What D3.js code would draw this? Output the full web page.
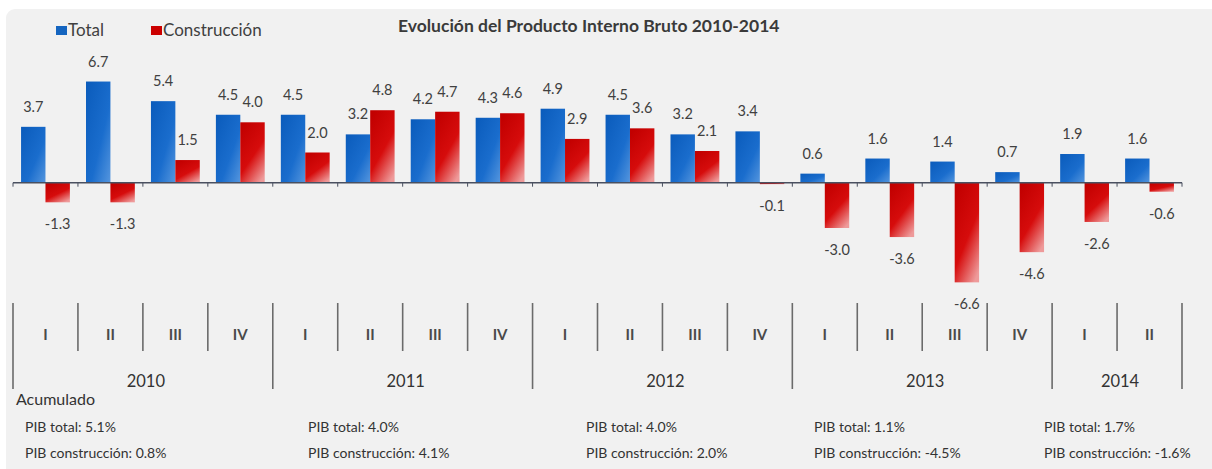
<!DOCTYPE html>
<html>
<head>
<meta charset="utf-8">
<script src="https://cdn.jsdelivr.net/npm/d3@7"></script>
<style>
  body { margin: 0; background: #fff; }
  text { font-family: Lato, 'Noto Sans', sans-serif; fill: #404040; }
</style>
</head>
<body>
<div id="chart"></div>
<script>
let years = ['2010', '2011', '2012', '2013', '2014']
let quarterNames = ['I', 'II', 'III', 'IV']
let quartersPerYear = [4, 4, 4, 4, 2]
let totalValues = [3.7, 6.7, 5.4, 4.5, 4.5, 3.2, 4.2, 4.3, 4.9, 4.5, 3.2, 3.4, 0.6, 1.6, 1.4, 0.7, 1.9, 1.6]
let consValues = [-1.3, -1.3, 1.5, 4.0, 2.0, 4.8, 4.7, 4.6, 2.9, 3.6, 2.1, -0.1, -3.0, -3.6, -6.6, -4.6, -2.6, -0.6]
let seriesNames = ['Total', 'Construcción']
let accTotal = ['5.1%', '4.0%', '4.0%', '1.1%', '1.7%']
let accCons = ['0.8%', '4.1%', '2.0%', '-4.5%', '-1.6%']

let categories = []
years.forEach((y, i) => {
    for (let q = 0; q < quartersPerYear[i]; q++) categories.push({ year: y, q: quarterNames[q], first: q === 0 })
})
let rows = categories.map((c, i) => ({ id: c.year + '-' + c.q, cat: c, total: totalValues[i], cons: consValues[i] }))

let W = 1212, H = 469

let svg = d3.select('#chart')
    .append('svg')
    .attr('width', W)
    .attr('height', H)

let defs = svg.append('defs')
let gb = defs.append('linearGradient').attr('id', 'gBlue')
    .attr('x1', 0).attr('y1', 0).attr('x2', 1).attr('y2', 1)
gb.append('stop').attr('offset', '0%').attr('stop-color', '#0a5bbb')
gb.append('stop').attr('offset', '60%').attr('stop-color', '#1a6dcd')
gb.append('stop').attr('offset', '100%').attr('stop-color', '#5596de')
let gr = defs.append('linearGradient').attr('id', 'gRed')
    .attr('x1', 0.2).attr('y1', 0).attr('x2', 0.8).attr('y2', 1)
gr.append('stop').attr('offset', '0%').attr('stop-color', '#c20000')
gr.append('stop').attr('offset', '55%').attr('stop-color', '#d60c0c')
gr.append('stop').attr('offset', '100%').attr('stop-color', '#ee9a9a')

// panel
svg.append('rect')
    .attr('x', 6).attr('y', 9)
    .attr('width', W + 10).attr('height', H)
    .attr('rx', 9)
    .attr('fill', '#f1f1f1')

let x0 = d3.scaleBand()
    .domain(rows.map(d => d.id))
    .range([13, 1182])

let x1 = d3.scaleBand()
    .domain(['total', 'cons'])
    .range([0, x0.bandwidth()])
    .paddingOuter(0.33)

let yScale = d3.scaleLinear()
    .domain([-7, 7])
    .range([288.4, 77])

let colors = { total: 'url(#gBlue)', cons: 'url(#gRed)' }

let groups = svg.selectAll('.cat')
    .data(rows)
    .enter()
    .append('g')
    .attr('class', 'cat')
    .attr('transform', d => `translate(${x0(d.id)},0)`)

let bars = groups.selectAll('rect')
    .data(d => ['total', 'cons'].map(k => ({ key: k, v: d[k] })))
    .enter()

bars.append('rect')
    .attr('x', d => x1(d.key))
    .attr('width', x1.bandwidth())
    .attr('y', d => yScale(Math.max(0, d.v)))
    .attr('height', d => Math.max(1.5, Math.abs(yScale(d.v) - yScale(0))))
    .attr('fill', d => colors[d.key])

bars.append('text')
    .attr('x', d => x1(d.key) + x1.bandwidth() / 2)
    .attr('y', d => d.v >= 0 ? yScale(d.v) - 20 : yScale(d.v) + 22)
    .attr('dy', '0.35em')
    .attr('text-anchor', 'middle')
    .style('font-size', '14.5px')
    .text(d => d.v.toFixed(1))

// zero line and boundary ticks
let bounds = rows.map(d => x0(d.id)).concat([x0.range()[1]])
svg.append('line')
    .attr('x1', x0.range()[0]).attr('x2', x0.range()[1])
    .attr('y1', yScale(0)).attr('y2', yScale(0))
    .attr('stroke', '#4a5060').attr('stroke-width', 1.5)
svg.selectAll('.tk')
    .data(bounds)
    .enter()
    .append('line')
    .attr('x1', d => d).attr('x2', d => d)
    .attr('y1', yScale(0)).attr('y2', yScale(0) + 4)
    .attr('stroke', '#4a5060')

// category axis: quarter separators and year separators
let yearBounds = bounds.filter((b, i) => i === rows.length || rows[i].cat.first)
svg.selectAll('.sep')
    .data(bounds)
    .enter()
    .append('line')
    .attr('x1', d => d).attr('x2', d => d)
    .attr('y1', 303)
    .attr('y2', d => yearBounds.includes(d) ? 389 : 351)
    .attr('stroke', '#6b6b6b')
    .attr('stroke-width', 1.6)

let qAxis = d3.axisBottom(x0)
    .tickSize(0)
    .tickFormat(id => id.split('-')[1])
svg.append('g')
    .attr('transform', 'translate(0,326)')
    .call(qAxis)
    .call(g => g.select('.domain').remove())
    .selectAll('text')
    .style('font-size', '15px')
    .style('font-weight', 'bold')
    .style('fill', '#4a4a4a')
    .style('font-family', "Lato, 'Noto Sans', sans-serif")

svg.selectAll('.yr')
    .data(years)
    .enter()
    .append('text')
    .attr('x', (y, i) => (yearBounds[i] + yearBounds[i + 1]) / 2 + 3)
    .attr('y', 381)
    .attr('dy', '0.35em')
    .attr('text-anchor', 'middle')
    .style('font-size', '16.5px')
    .style('fill', '#333')
    .text(d => d)

// title and legend
svg.append('text')
    .attr('x', 398).attr('y', 32)
    .style('font-size', '17.5px')
    .style('font-weight', 'bold')
    .style('fill', '#3a3a3a')
    .text('Evolución del Producto Interno Bruto 2010-2014')

let legendX = [56, 151]
let legend = svg.selectAll('.lg')
    .data(seriesNames)
    .enter()
    .append('g')
    .attr('transform', (d, i) => `translate(${legendX[i]},0)`)
legend.append('rect')
    .attr('x', 0).attr('y', 26)
    .attr('width', 11).attr('height', 9)
    .attr('fill', (d, i) => i === 0 ? '#1565c0' : '#cc0000')
legend.append('text')
    .attr('x', 12).attr('y', 36)
    .style('font-size', '17px')
    .text(d => d)

// acumulado
svg.append('text')
    .attr('x', 16).attr('y', 405)
    .style('font-size', '16px')
    .style('fill', '#333')
    .text('Acumulado')

let accX = [25, 308, 586, 814, 1044]
let acc = svg.selectAll('.acc')
    .data(years)
    .enter()
    .append('g')
    .attr('transform', (d, i) => `translate(${accX[i]},0)`)
acc.append('text')
    .attr('y', 432)
    .style('font-size', '14px')
    .style('fill', '#333')
    .text((d, i) => 'PIB total: ' + accTotal[i])
acc.append('text')
    .attr('y', 458)
    .style('font-size', '14px')
    .style('fill', '#333')
    .text((d, i) => 'PIB construcción: ' + accCons[i])
</script>
</body>
</html>
